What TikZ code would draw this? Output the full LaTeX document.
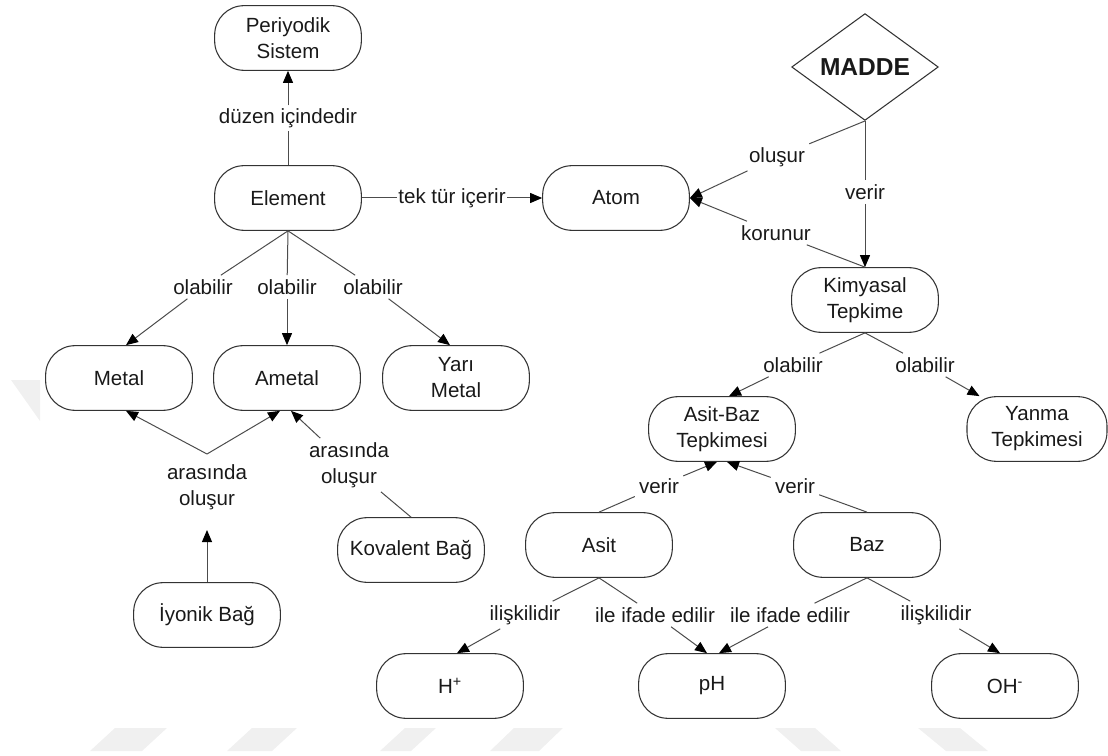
\documentclass[tikz,border=0pt]{standalone}
\usepackage{fontspec}
\setmainfont{Liberation Sans}
\usetikzlibrary{shapes.geometric,arrows.meta,calc}
\newcommand\cfont{\fontsize{15.4pt}{19.5pt}\selectfont}
\begin{document}
\begin{tikzpicture}[x=0.75pt,y=-0.75pt,
  concept/.style={draw=black!80,line width=0.8pt,rounded corners=22pt,minimum width=110pt,minimum height=48.5pt,align=center,font=\cfont,text=black!90,inner sep=2pt},
  lbl/.style={font=\cfont,align=center,inner sep=3pt,text=black!90},
  conn/.style={draw=black!70,line width=0.75pt},
  arr/.style={conn,-{Triangle[length=9pt,width=7.5pt,color=black]}},
  wm/.style={fill=black!6,draw=none}]
\useasboundingbox (0,0) rectangle (1108,756);

% faint watermark shapes
\fill[wm] (11,380) -- (40,380) -- (40,421) -- cycle;
\fill[wm] (90,751) -- (115,728) -- (167,728) -- (142,751) -- cycle;
\fill[wm] (227,751) -- (252,728) -- (297,728) -- (272,751) -- cycle;
\fill[wm] (380,751) -- (405,728) -- (436,728) -- (411,751) -- cycle;
\fill[wm] (490,751) -- (514,728) -- (563,728) -- (539,751) -- cycle;
\fill[wm] (775,728) -- (815,728) -- (841,751) -- (801,751) -- cycle;
\fill[wm] (918,728) -- (960,728) -- (988,751) -- (946,751) -- cycle;

% concept nodes
\node[concept] (PS) at (288,38) {Periyodik\\Sistem};
\node[concept] (EL) at (288,198) {Element};
\node[concept] (ME) at (119,378) {Metal};
\node[concept] (AM) at (287,378) {Ametal};
\node[concept] (YM) at (456,378) {Yarı\\Metal};
\node[concept] (IB) at (207,615) {İyonik Bağ};
\node[concept] (KB) at (411,550) {Kovalent Bağ};
\node[concept] (AT) at (616,198) {Atom};
\node[draw=black!80,line width=0.8pt,diamond,minimum width=110pt,minimum height=72pt,inner sep=0pt,text=black!90,font=\bfseries\fontsize{18.4pt}{20pt}\selectfont] (MA) at (865,67) {MADDE};
\node[concept] (KT) at (865,300) {Kimyasal\\Tepkime};
\node[concept] (ABT) at (722,429) {Asit-Baz\\Tepkimesi};
\node[concept,minimum width=105pt] (YT) at (1037,429) {Yanma\\Tepkimesi};
\node[concept] (AS) at (599,545) {Asit};
\node[concept] (BZ) at (867,545) {Baz};
\node[concept] (HP) at (450,686) {H\textsuperscript{+}};
\node[concept] (PH) at (712,686) {pH};
\node[concept] (OH) at (1005,686) {OH\textsuperscript{-}};

% link labels
\node[lbl,inner sep=2pt] (l_duzen) at (288,118) {düzen içindedir};
\node[lbl,inner sep=1pt] (l_tek) at (452,198) {tek tür içerir};
\node[lbl] (l_ol1) at (203,287) {olabilir};
\node[lbl] (l_ol2) at (287,287) {olabilir};
\node[lbl] (l_ol3) at (373,287) {olabilir};
\node[lbl] (l_ar1) at (207,487) {arasında\\oluşur};
\node[lbl] (l_ar2) at (349,465) {arasında\\oluşur};
\node[lbl] (l_olus) at (777,157) {oluşur};
\node[lbl] (l_ver1) at (865,192) {verir};
\node[lbl] (l_kor) at (776,233) {korunur};
\node[lbl] (l_ol4) at (793,365) {olabilir};
\node[lbl] (l_ol5) at (925,365) {olabilir};
\node[lbl] (l_ver2) at (659,486) {verir};
\node[lbl] (l_ver3) at (795,486) {verir};
\node[lbl] (l_il1) at (525,615) {ilişkilidir};
\node[lbl] (l_ife1) at (655,615) {ile ifade edilir};
\node[lbl] (l_ife2) at (790,615) {ile ifade edilir};
\node[lbl] (l_il2) at (936,615) {ilişkilidir};

\coordinate (v1) at (207,454);
\coordinate (v1b) at (207,530);

% connectors
\draw[conn] (EL.north) -- (l_duzen);
\draw[arr] (l_duzen) -- (PS.south);
\draw[conn] (EL.east) -- (l_tek);
\draw[arr] (l_tek) -- (AT.west);
\draw[conn] (EL.south) -- (l_ol1);
\draw[arr] (l_ol1) -- ($(ME.north)+(7,0)$);
\draw[conn] (EL.south) -- (l_ol2);
\draw[arr] (l_ol2) -- (AM.north);
\draw[conn] (EL.south) -- (l_ol3);
\draw[arr] (l_ol3) -- ($(YM.north)+(-6,0)$);

\draw[arr] (v1) -- ($(ME.south)+(7,0)$);
\draw[arr] (v1) -- ($(AM.south)+(-7,0)$);
\draw[arr] (IB.north) -- (v1b);
\draw[conn] (KB.north) -- (l_ar2);
\draw[arr] (l_ar2) -- ($(AM.south)+(4,0)$);

\draw[conn] (MA.south) -- (l_olus);
\draw[arr] (l_olus) -- (AT.east);
\draw[conn] (MA.south) -- (l_ver1);
\draw[arr] (l_ver1) -- (KT.north);
\draw[conn] (KT.north) -- (l_kor);
\draw[arr] (l_kor) -- (AT.east);
\draw[conn] (KT.south) -- (l_ol4);
\draw[arr] (l_ol4) -- ($(ABT.north)+(7,0)$);
\draw[conn] (KT.south) -- (l_ol5);
\draw[arr] (l_ol5) -- (YT);

\draw[conn] (AS.north) -- (l_ver2);
\draw[arr] (l_ver2) -- ($(ABT.south)+(-5,0)$);
\draw[conn] (BZ.north) -- (l_ver3);
\draw[arr] (l_ver3) -- ($(ABT.south)+(5,0)$);
\draw[conn] (AS.south) -- (l_il1);
\draw[arr] (l_il1) -- ($(HP.north)+(7,0)$);
\draw[conn] (AS.south) -- (l_ife1);
\draw[arr] (l_ife1) -- ($(PH.north)+(-5,0)$);
\draw[conn] (BZ.south) -- (l_ife2);
\draw[arr] (l_ife2) -- ($(PH.north)+(7,0)$);
\draw[conn] (BZ.south) -- (l_il2);
\draw[arr] (l_il2) -- ($(OH.north)+(-5,0)$);
\end{tikzpicture}
\end{document}
